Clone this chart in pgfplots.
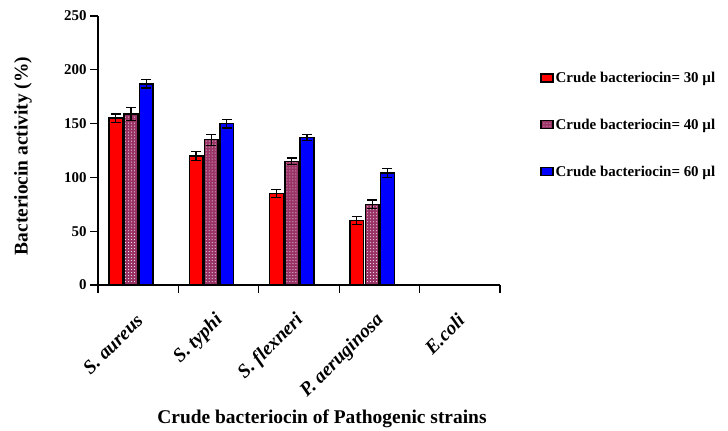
\documentclass[border=0pt]{standalone}
\usepackage{fontspec}
\setmainfont{Liberation Serif}
\usepackage{pgfplots}
\pgfplotsset{compat=1.18}
\usetikzlibrary{patterns}

\definecolor{barred}{RGB}{255,0,0}
\definecolor{barpink}{RGB}{153,51,102}
\definecolor{barblue}{RGB}{0,0,255}

% x  y  err
\pgfplotstableread{
x y e
0 155 4
1 120 4
2 85 4
3 60 4
4 0 0
}\thirty
\pgfplotstableread{
x y e
0 159 6
1 135 5
2 115 3
3 75 4
4 0 0
}\forty
\pgfplotstableread{
x y e
0 187 4
1 150 4
2 137 3
3 104 4
4 0 0
}\sixty

\begin{document}
\begin{tikzpicture}
\path[use as bounding box] (0,0) rectangle (728bp,431bp);
\begin{axis}[
    at={(98bp,146bp)}, anchor=south west,
    scale only axis,
    width=402bp, height=269bp,
    xmin=-0.5, xmax=4.5,
    ymin=0, ymax=250,
    axis x line=bottom, axis y line=left,
    axis line style={-, line width=1.2bp},
    tick style={black, line width=1.2bp},
    tick align=outside,
    major tick length=8bp,
    ytick={0,50,...,250},
    xtick={-0.5,0.5,...,4.5},
    xticklabels={S. aureus, S. typhi, S. flexneri, P. aeruginosa, E.coli, {}},
    xticklabel style={xshift=44bp, yshift=-22bp, rotate=45, anchor=east,
        font=\bfseries\itshape\fontsize{19.5}{22}\selectfont},
    yticklabel style={font=\bfseries\fontsize{15}{18}\selectfont},
    /pgf/number format/assume math mode=true,
    ybar, bar width=0.17,
    every axis plot/.append style={draw=black, line width=1.5bp},
    error bars/error bar style={line width=1.2bp, black},
    error bars/error mark options={rotate=90, mark size=5bp, line width=1.2bp, black},
    legend style={at={(1.10,0.80)}, anchor=north west, draw=none,
        fill=none, row sep=31bp, inner sep=0pt,
        font=\bfseries\fontsize{15}{17}\selectfont,
        nodes={inner xsep=2bp}},
    legend cell align=left,
    legend image code/.code={\draw[#1, line width=1.3bp] (0bp,-4bp) rectangle (12bp,4bp);},
    clip=false,
]
\addplot[fill=barred, bar shift=-0.28,
    error bars/.cd, y dir=both, y explicit]
    table[x=x, y=y, y error=e] {\thirty};
\addplot[fill=barpink, bar shift=-0.09,
    postaction={pattern=dots, pattern color=white},
    error bars/.cd, y dir=both, y explicit]
    table[x=x, y=y, y error=e] {\forty};
\addplot[fill=barblue, bar shift=0.10,
    error bars/.cd, y dir=both, y explicit]
    table[x=x, y=y, y error=e] {\sixty};
\legend{Crude bacteriocin= 30 µl, Crude bacteriocin= 40 µl, Crude bacteriocin= 60 µl}
\end{axis}
\node[rotate=90, font=\bfseries\fontsize{19.5}{22}\selectfont] at (23bp,275bp) {Bacteriocin activity (\%)};
\node[font=\bfseries\fontsize{19.5}{22}\selectfont] at (322bp,12bp) {Crude bacteriocin of Pathogenic strains};
\end{tikzpicture}
\end{document}
